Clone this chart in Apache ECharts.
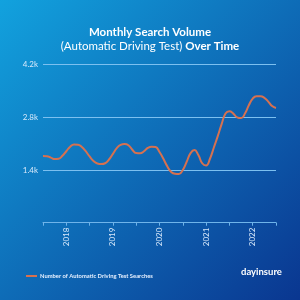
<!DOCTYPE html>
<html>
<head>
<meta charset="utf-8">
<script src="https://cdn.jsdelivr.net/npm/echarts@6/dist/echarts.min.js"></script>
<style>
  html, body { margin: 0; padding: 0; }
  #chart { width: 300px; height: 300px; }
</style>
</head>
<body>
<div id="chart"></div>
<script>
// monthly, Jul 2017 .. Jul 2022
const months = []
for (let y = 2017; y <= 2022; y++) {
  for (let m = 1; m <= 12; m++) {
    if ((y === 2017 && m < 7) || (y === 2022 && m > 7)) continue
    months.push(y + '-' + String(m).padStart(2, '0'))
  }
}
const searches = [
  1770, 1765, 1730, 1690, 1700, 1780, 1900, 2020, 2080, 2075, 2010, 1900,
  1760, 1640, 1575, 1560, 1580, 1680, 1830, 1980, 2070, 2090, 2060, 1940,
  1850, 1845, 1900, 1990, 2020, 2010, 1880, 1700, 1500, 1350, 1300, 1295,
  1400, 1620, 1850, 1930, 1800, 1580, 1520, 1700, 2000, 2300, 2620, 2900,
  2960, 2900, 2800, 2780, 2900, 3120, 3300, 3360, 3360, 3320, 3220, 3100,
  3050
]
const seriesName = 'Number of Automatic Driving Test Searches'
const yTicks = [0, 1400, 2800, 4200]

const chart = echarts.init(document.getElementById('chart'))
const font = 'Lato, "Open Sans", sans-serif'

chart.setOption({
  backgroundColor: {
    type: 'linear', x: 0, y: 0, x2: 1, y2: 1,
    colorStops: [
      { offset: 0, color: '#12a2de' },
      { offset: 1, color: '#0a3690' }
    ]
  },
  title: {
    text: '{b|Monthly Search Volume}\n{n|(Automatic Driving Test) }{b|Over Time}',
    left: 'center',
    top: 20,
    textStyle: {
      rich: {
        b: { color: '#fff', fontWeight: 'bold', fontSize: 11.5, fontFamily: font, lineHeight: 14 },
        n: { color: '#fff', fontWeight: 'normal', fontSize: 11.5, fontFamily: font, lineHeight: 14 }
      }
    }
  },
  legend: {
    left: 21,
    top: 268,
    itemWidth: 11,
    itemHeight: 2,
    icon: 'rect',
    itemGap: 4,
    data: [seriesName],
    textStyle: { color: '#e6f0ff', fontSize: 5.8, fontWeight: 'bold', fontFamily: font, padding: [0, 0, 0, -2] }
  },
  graphic: [{
    type: 'text',
    left: 241,
    top: 267,
    style: { text: 'dayinsure', fill: '#fff', font: 'bold 9.5px ' + font }
  }],
  grid: { left: 43, right: 24, top: 64.7, bottom: 77.3 },
  xAxis: {
    type: 'category',
    data: months,
    boundaryGap: false,
    axisLine: { lineStyle: { color: '#6fb4ea', width: 1 } },
    axisTick: { interval: 5, length: 3, lineStyle: { color: '#6fb4ea' } },
    axisLabel: {
      interval: (i) => i % 12 === 6,
      formatter: (v) => v.slice(0, 4),
      rotate: 90,
      color: '#d8e9fb',
      fontSize: 8,
      fontFamily: font,
      margin: 5
    },
    splitLine: { show: false }
  },
  yAxis: {
    type: 'value',
    min: yTicks[0],
    max: yTicks[yTicks.length - 1],
    interval: 1400,
    axisLine: { show: false },
    axisTick: { show: false },
    axisLabel: {
      color: '#d8e9fb',
      fontSize: 8,
      fontFamily: font,
      margin: 5,
      formatter: (v) => v === 0 ? '' : (v / 1000).toFixed(1) + 'k'
    },
    splitLine: { lineStyle: { color: '#7cc0f0', width: 1 } }
  },
  series: [{
    name: seriesName,
    type: 'line',
    data: searches,
    smooth: 0.5,
    showSymbol: false,
    itemStyle: { color: '#d67150' },
    lineStyle: { color: '#d67150', width: 2 }
  }]
})
</script>
</body>
</html>
